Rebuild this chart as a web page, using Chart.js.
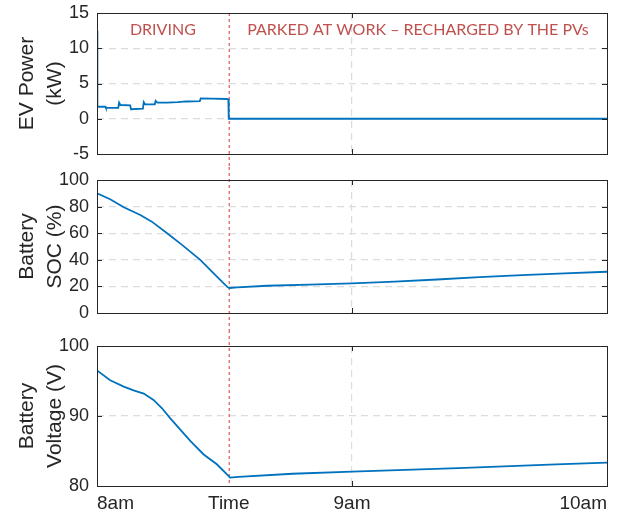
<!DOCTYPE html>
<html>
<head>
<meta charset="utf-8">
<script src="https://cdn.jsdelivr.net/npm/chart.js@4"></script>
<style>
  body { margin: 0; background: #fff; }
  #wrap { position: relative; width: 627px; height: 517px; }
  .panel { position: absolute; left: 0; width: 627px; }
</style>
</head>
<body>
<div id="wrap">
  <div class="panel" style="top:0;height:167px"><canvas id="power"></canvas></div>
  <div class="panel" style="top:167px;height:163px"><canvas id="soc"></canvas></div>
  <div class="panel" style="top:330px;height:187px"><canvas id="volt"></canvas></div>
</div>
<script>
// time axis in minutes after 8am
const xTicks = [0, 31, 60, 120];
const xTickLabels = ['8am', 'Time', '9am', '10am'];
const parkedAt = 31;

const phaseLabels = ['DRIVING', 'PARKED AT WORK \u2013 RECHARGED BY THE PVs'];
const phaseCenters = [15.5, 75.5];
const phaseLabelY = 12.6;

const powerTime = [0, 0.1, 2, 2.1, 5, 5.2, 5.5, 7.8, 8.0, 10.8, 11.0, 11.3, 13.6, 13.8, 14.2, 16.5, 19, 21, 24.2, 24.4, 27, 30.6, 30.9, 31.0, 120];
const powerKW = [12.5, 1.7, 1.7, 1.55, 1.55, 2.3, 1.95, 1.9, 1.35, 1.45, 2.35, 2.05, 2.05, 2.55, 2.3, 2.3, 2.35, 2.45, 2.5, 2.9, 2.85, 2.8, 2.75, 0, 0];

const socTime = [0, 3.1, 6.3, 10.2, 12.9, 16.5, 20, 24.3, 27.8, 30.7, 31.2, 33, 40, 50, 60, 70, 80, 90, 100, 110, 120];
const socPct = [90, 85.5, 79.5, 73.7, 68.7, 60, 51.2, 40, 28.7, 19.5, 18.8, 19.2, 20.5, 21.3, 22.2, 23.6, 25.2, 26.9, 28.5, 29.8, 31];

const voltTime = [0, 3.1, 6.3, 8.6, 11, 13.3, 15.3, 17.2, 19.6, 22, 25.1, 28.2, 31, 31.3, 33.3, 46, 60, 85, 108, 120];
const voltV = [96.5, 95.1, 94.2, 93.65, 93.2, 92.3, 91.1, 89.7, 88.05, 86.4, 84.5, 83.1, 81.4, 81.2, 81.3, 81.75, 82.05, 82.55, 83.1, 83.35];

const frame = {
  id: 'frame',
  beforeDatasetsDraw(chart, args, opts) {
    const ctx = chart.ctx, a = chart.chartArea;
    const x = chart.scales.x.getPixelForValue(parkedAt);
    ctx.save();
    ctx.strokeStyle = '#e05a5a';
    ctx.lineWidth = 1.2;
    ctx.setLineDash([3, 3]);
    ctx.beginPath();
    ctx.moveTo(x + 0.5, opts.first ? a.top : 0);
    ctx.lineTo(x + 0.5, opts.last ? a.bottom : chart.height);
    ctx.stroke();
    ctx.restore();
  },
  afterDraw(chart, args, opts) {
    const ctx = chart.ctx, a = chart.chartArea;
    const y = chart.scales.y, xs = chart.scales.x;
    ctx.save();
    ctx.strokeStyle = '#262626';
    ctx.lineWidth = 1;
    ctx.strokeRect(Math.round(a.left) + 0.5, Math.round(a.top) + 0.5, Math.round(a.right - a.left), Math.round(a.bottom - a.top));
    ctx.beginPath();
    y.ticks.forEach(t => {
      const py = Math.round(y.getPixelForValue(t.value)) + 0.5;
      ctx.moveTo(a.left, py); ctx.lineTo(a.left + 5, py);
      ctx.moveTo(a.right, py); ctx.lineTo(a.right - 5, py);
    });
    const px = Math.round(xs.getPixelForValue(60)) + 0.5;
    ctx.moveTo(px, a.top); ctx.lineTo(px, a.top + 5);
    ctx.moveTo(px, a.bottom); ctx.lineTo(px, a.bottom - 5);
    ctx.stroke();
    if (opts.first) {
      ctx.fillStyle = '#c0504d';
      ctx.font = '16px Lato';
      ctx.textAlign = 'center';
      ctx.textBaseline = 'middle';
      phaseLabels.forEach((txt, i) => {
        ctx.fillText(txt, xs.getPixelForValue(phaseCenters[i]), y.getPixelForValue(phaseLabelY));
      });
    }
    ctx.restore();
  }
};

function makePanel(id, times, values, yMin, yMax, yStep, title, pad, opts) {
  const points = times.map((t, i) => ({ x: t, y: values[i] }));
  return new Chart(document.getElementById(id), {
    type: 'line',
    data: {
      datasets: [{
        data: points,
        borderColor: '#0072BD',
        borderWidth: 1.8,
        pointRadius: 0,
        tension: 0
      }]
    },
    options: {
      responsive: true,
      maintainAspectRatio: false,
      animation: false,
      layout: { padding: { left: 14, right: 20, top: pad[0], bottom: pad[1] } },
      plugins: {
        legend: { display: false },
        tooltip: { enabled: false },
        frame: opts
      },
      scales: {
        x: {
          type: 'linear',
          min: 0,
          max: 120,
          afterBuildTicks: (s) => { s.ticks = xTicks.map(v => ({ value: v })); },
          afterFit: (s) => {
            s.paddingLeft = 0; s.paddingRight = 0;
            if (opts.last) s.height = 31;
          },
          grid: {
            drawTicks: false,
            color: (c) => (c.tick && c.tick.value === 60) ? '#dcdcdc' : 'rgba(0,0,0,0)',
            lineWidth: 1.2
          },
          border: { display: false, dash: [7, 5] },
          ticks: {
            display: !!opts.last,
            autoSkip: false,
            maxRotation: 0,
            align: 'inner',
            padding: 6,
            color: '#262626',
            font: { family: 'Liberation Sans, Arial, sans-serif', size: 19 },
            callback: (v) => xTickLabels[xTicks.indexOf(v)]
          }
        },
        y: {
          min: yMin,
          max: yMax,
          afterFit: (s) => { s.width = 83; s.paddingTop = 0; s.paddingBottom = 0; },
          grid: {
            drawTicks: false,
            color: (c) => (c.tick && (c.tick.value === yMin || c.tick.value === yMax)) ? 'rgba(0,0,0,0)' : '#dcdcdc',
            lineWidth: 1.2
          },
          border: { display: false, dash: [7, 5] },
          ticks: {
            stepSize: yStep,
            padding: 8,
            color: '#262626',
            font: { family: 'Liberation Sans, Arial, sans-serif', size: 18 }
          },
          title: {
            display: true,
            text: title,
            color: '#262626',
            font: { family: 'Liberation Sans, Arial, sans-serif', size: 21, lineHeight: 1.3 },
            padding: { top: 0, bottom: 0 }
          }
        }
      }
    },
    plugins: [frame]
  });
}

makePanel('power', powerTime, powerKW, -5, 15, 5, ['EV Power', '(kW)'], [13, 13], { first: true });
makePanel('soc', socTime, socPct, 0, 100, 20, ['Battery', 'SOC (%)'], [13, 17], {});
makePanel('volt', voltTime, voltV, 80, 100, 10, ['Battery', 'Voltage (V)'], [16, 0], { last: true });
</script>
</body>
</html>
